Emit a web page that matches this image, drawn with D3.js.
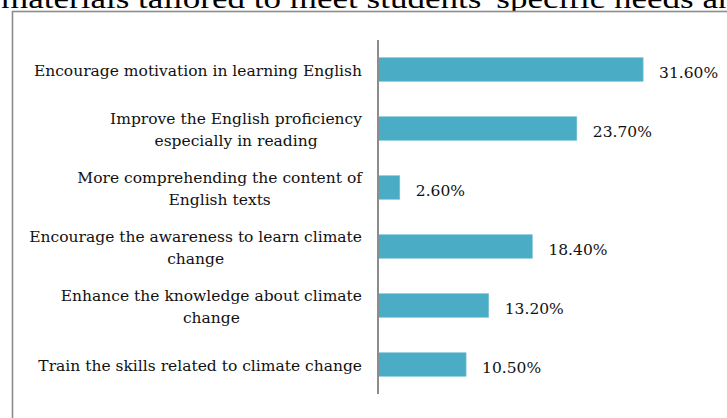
<!DOCTYPE html>
<html>
<head>
<meta charset="utf-8">
<script src="https://cdn.jsdelivr.net/npm/d3@7"></script>
<style>
  body { margin: 0; background: #fff; }
  svg { display: block; }
</style>
</head>
<body>
<svg id="chart"></svg>
<script>
// data
const categories = [
  ["Encourage motivation in learning English"],
  ["Improve the English proficiency", "especially in reading"],
  ["More comprehending the content of", "English texts"],
  ["Encourage the awareness to learn climate", "change"],
  ["Enhance the knowledge about climate", "change"],
  ["Train the skills related to climate change"]
];
const values = [31.6, 23.7, 2.6, 18.4, 13.2, 10.5];
const valueLabels = ["31.60%", "23.70%", "2.60%", "18.40%", "13.20%", "10.50%"];
const pageText = "materials tailored to meet students' specific needs and";

const W = 727, H = 418;
const fontSize = 15.5;
const font = "'DejaVu Serif', 'Liberation Serif', serif";

const svg = d3.select("#chart").attr("width", W).attr("height", H);

// clipped line of document text above the chart
svg.append("text")
    .attr("x", 1)
    .attr("y", 8)
    .attr("font-family", "'Liberation Serif', serif")
    .attr("font-size", 27)
    .attr("fill", "#000")
    .attr("textLength", 752)
    .attr("lengthAdjust", "spacingAndGlyphs")
    .text(pageText);

// chart frame (runs off right and bottom)
svg.append("rect")
    .attr("x", 12.5)
    .attr("y", 11.5)
    .attr("width", 760)
    .attr("height", 460)
    .attr("fill", "#fff")
    .attr("stroke", "#8c8c8c")
    .attr("stroke-width", 1.6);

const axisX = 378;
const idx = d3.range(values.length);

const x = d3.scaleLinear()
    .domain([0, 35])
    .range([axisX, axisX + 35 * 8.39]);

const y = d3.scaleBand()
    .domain(idx)
    .range([40, 394])
    .paddingInner(0.6)
    .paddingOuter(0.3);

// bars
svg.append("g")
  .selectAll("rect")
  .data(idx)
  .join("rect")
    .attr("x", x(0))
    .attr("y", i => y(i))
    .attr("width", i => x(values[i]) - x(0))
    .attr("height", y.bandwidth())
    .attr("fill", "#4bacc6")
    .attr("stroke", "#7fc6d8")
    .attr("stroke-width", 0.6);

// vertical axis line
svg.append("line")
    .attr("x1", axisX).attr("x2", axisX)
    .attr("y1", 40).attr("y2", 394)
    .attr("stroke", "#8c8c8c")
    .attr("stroke-width", 2);

// value labels
svg.append("g")
  .selectAll("text")
  .data(idx)
  .join("text")
    .attr("x", i => x(values[i]) + 16)
    .attr("y", i => y(i) + y.bandwidth() / 2 + 3)
    .attr("dy", "0.35em")
    .attr("font-family", font)
    .attr("font-size", fontSize)
    .attr("fill", "#111")
    .text(i => valueLabels[i]);

// category labels: each block right-aligned, lines centred within block
const labelRight = 362;
const lineH = 21.5;
const lab = svg.append("g")
  .selectAll("g")
  .data(idx)
  .join("g");

lab.each(function(i) {
  const g = d3.select(this);
  const lines = categories[i];
  const cy = y(i) + y.bandwidth() / 2 + 1;
  const texts = g.selectAll("text")
    .data(lines)
    .join("text")
      .attr("y", (d, k) => cy + (k - (lines.length - 1) / 2) * lineH)
      .attr("dy", "0.35em")
      .attr("font-family", font)
      .attr("font-size", fontSize)
      .attr("fill", "#111")
      .attr("text-anchor", "middle")
      .text(d => d);
  const maxW = d3.max(texts.nodes(), n => n.getComputedTextLength());
  texts.attr("x", labelRight - maxW / 2);
});
</script>
</body>
</html>
